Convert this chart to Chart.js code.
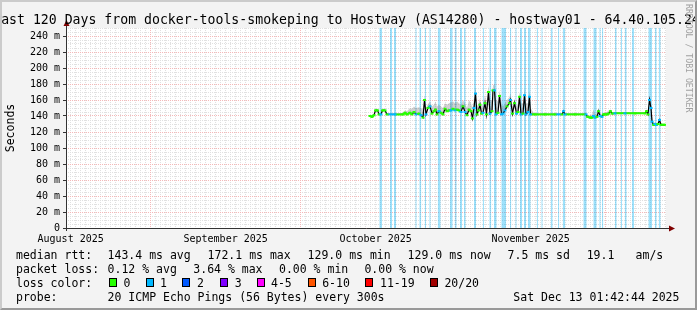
<!DOCTYPE html>
<html>
<head>
<meta charset="utf-8">
<script src="https://cdn.jsdelivr.net/npm/chart.js@4.4.1/dist/chart.umd.min.js"></script>
<style>
  html, body { margin: 0; padding: 0; background: #fff; }
  #frame { position: relative; width: 697px; height: 310px; overflow: hidden; background: #f3f3f3;
           font-family: 'DejaVu Sans Mono', monospace; color: #000; }
  #frame canvas { position: absolute; left: 0; top: 0; }
  .edge { position: absolute; left: 0; top: 0; right: 0; bottom: 0; border-style: solid; border-width: 2px;
          border-color: #cbcbcb #999 #999 #cbcbcb; pointer-events: none; }
  .title { position: absolute; left: -100px; width: 893px; top: 11.5px; text-align: center;
           font-size: 13.2px; line-height: 16px; white-space: pre; }
  .vlabel { position: absolute; left: -29.7px; top: 120.5px; width: 80px; height: 14px; line-height: 14px;
            font-size: 11.5px; text-align: center; transform: rotate(-90deg); }
  .credit { position: absolute; left: 684px; top: 4px; writing-mode: vertical-rl; font-size: 8.2px;
            line-height: 9px; color: #a0a0a0; white-space: pre; }
  .lg { position: absolute; font-size: 11.5px; line-height: 14px; white-space: pre; }
  .sw { position: absolute; top: 278px; width: 6px; height: 7px; border: 1px solid #000; }
</style>
</head>
<body>
<div id="frame">
  <canvas id="rtt" width="697" height="310"></canvas>
  <div class="title">Last 120 Days from docker-tools-smokeping to Hostway (AS14280) - hostway01 - 64.40.105.24</div>
  <div class="vlabel">Seconds</div>
  <div class="credit">RRDTOOL / TOBI OETIKER</div>

  <div class="lg" style="left:16px;top:247.5px">median rtt:</div>
  <div class="lg" style="left:107.6px;top:247.5px">143.4 ms avg</div>
  <div class="lg" style="left:207.6px;top:247.5px">172.1 ms max</div>
  <div class="lg" style="left:307.6px;top:247.5px">129.0 ms min</div>
  <div class="lg" style="left:407.6px;top:247.5px">129.0 ms now</div>
  <div class="lg" style="left:507.6px;top:247.5px">7.5 ms sd</div>
  <div class="lg" style="left:586.7px;top:247.5px">19.1</div>
  <div class="lg" style="left:635.6px;top:247.5px">am/s</div>

  <div class="lg" style="left:16px;top:261.5px">packet loss:</div>
  <div class="lg" style="left:107.6px;top:261.5px">0.12 % avg</div>
  <div class="lg" style="left:193.3px;top:261.5px">3.64 % max</div>
  <div class="lg" style="left:279px;top:261.5px">0.00 % min</div>
  <div class="lg" style="left:364.4px;top:261.5px">0.00 % now</div>

  <div class="lg" style="left:16px;top:275.5px">loss color:</div>
  <div class="sw" style="left:109px;background:#26ff00"></div><div class="lg" style="left:123.6px;top:275.5px">0</div>
  <div class="sw" style="left:146px;background:#00b8ff"></div><div class="lg" style="left:160px;top:275.5px">1</div>
  <div class="sw" style="left:182px;background:#0059ff"></div><div class="lg" style="left:197px;top:275.5px">2</div>
  <div class="sw" style="left:220px;background:#7e00ff"></div><div class="lg" style="left:234.7px;top:275.5px">3</div>
  <div class="sw" style="left:257px;background:#ff00ff"></div><div class="lg" style="left:271px;top:275.5px">4-5</div>
  <div class="sw" style="left:308px;background:#ff5500"></div><div class="lg" style="left:322.2px;top:275.5px">6-10</div>
  <div class="sw" style="left:365px;background:#ff0000"></div><div class="lg" style="left:380px;top:275.5px">11-19</div>
  <div class="sw" style="left:430px;background:#a10000"></div><div class="lg" style="left:444.4px;top:275.5px">20/20</div>

  <div class="lg" style="left:16px;top:289.5px">probe:</div>
  <div class="lg" style="left:107.6px;top:289.5px">20 ICMP Echo Pings (56 Bytes) every 300s</div>
  <div class="lg" style="left:513.3px;top:289.5px">Sat Dec 13 01:42:44 2025</div>
  <div class="edge"></div>
</div>

<script>
'use strict';

// ─── Time window: last 120 days up to Sat Dec 13 01:42:44 2025 ──────────────
const DAY = 86400000;
const WINDOW_DAYS = 120;
const WINDOW_END = Date.UTC(2025, 11, 13, 1, 42, 44);
const WINDOW_START = WINDOW_END - WINDOW_DAYS * DAY;
const Y_MAX = 250; // ms

const monthLabels = ['August 2025', 'September 2025', 'October 2025', 'November 2025'];
const monthLabelDates = ['2025-08-16', '2025-09-16', '2025-10-16', '2025-11-16'];
const monthLineDates = ['2025-09-01', '2025-10-01', '2025-11-01', '2025-12-01'];

// ─── Median RTT (days since window start, ms) ────────────────────────────────
const rttDay = [
  60.8, 61.2, 61.6, 61.9, 62.3, 62.6, 63.0, 63.3, 63.8, 64.2,
  65.8, 67.4, 67.8, 68.2, 68.8, 69.2, 69.6, 70.0, 70.6, 71.0,
  71.4, 71.7, 72.0, 72.4, 72.8, 73.2, 73.6, 73.9, 74.2, 74.6,
  75.0, 75.4, 75.8, 76.2, 76.6, 77.0, 77.4, 77.8, 78.2, 78.6,
  79.0, 79.4, 79.8, 80.2, 80.6, 81.0, 81.3, 81.6, 81.9, 82.2,
  82.5, 82.8, 83.1, 83.4, 83.8, 84.1, 84.5, 84.8, 85.2, 85.4,
  85.7, 86.0, 86.4, 86.7, 87.1, 87.4, 87.8, 88.2, 88.7, 88.9,
  89.3, 89.7, 90.1, 90.4, 90.7, 91.0, 91.4, 91.7, 92.0, 92.4,
  92.7, 92.9, 93.8, 95.8, 97.8, 99.2, 99.5, 99.8, 101.8, 104.0,
  104.3, 104.8, 105.2, 105.5, 105.8, 106.2, 106.5, 106.8, 107.2, 107.5,
  107.8, 108.2, 108.5, 108.9, 109.2, 109.8, 111.8, 113.8, 115.8, 116.1,
  116.4, 116.7, 117.0, 117.2, 117.5, 117.8, 118.1, 118.4, 118.7, 119.0,
  119.4, 119.8,
];
const rttMedian = [
  140, 139, 141, 147, 147, 142, 142, 147, 147, 142,
  142, 142, 144, 142, 144, 142, 145, 142, 143, 141,
  138, 160, 142, 150, 152, 143, 146, 148, 142, 146,
  144, 142, 149, 146, 147, 147, 149, 147, 148, 147,
  145, 152, 145, 141, 148, 146, 137, 150, 168, 142,
  147, 154, 143, 144, 156, 142, 170, 143, 146, 172,
  172, 142, 144, 165, 142, 143, 147, 152, 156, 160,
  143, 156, 143, 145, 164, 142, 143, 166, 142, 145,
  164, 142, 142, 142, 142, 142, 146, 142, 142, 142,
  139, 138, 138, 140, 138, 139, 146, 140, 139, 142,
  142, 142, 143, 146, 143, 143.3, 143.3, 143.3, 143.3, 146,
  142, 160, 150, 133, 129, 130, 129, 130, 135, 129,
  129, 129,
];
// top of the ping spread ("smoke")
const rttSmokeTop = [
  141, 141, 143, 149, 149, 143, 143, 149, 149, 143,
  142, 144, 147, 146, 150, 149, 152, 150, 151, 150,
  148, 166, 150, 155, 158, 152, 154, 158, 152, 154,
  152, 150, 156, 154, 156, 157, 158, 156, 158, 156,
  154, 160, 156, 150, 160, 156, 150, 162, 176, 152,
  156, 162, 152, 154, 166, 156, 178, 160, 160, 178,
  180, 160, 158, 172, 156, 152, 156, 160, 164, 168,
  152, 162, 152, 156, 170, 156, 156, 174, 156, 156,
  172, 150, 142, 142, 142, 143, 149, 143, 142, 143,
  141, 141, 142, 148, 142, 143, 150, 144, 142, 144,
  144, 145, 147, 148, 145, 144, 144, 144, 144, 148,
  146, 164, 158, 140, 132, 132, 131, 132, 138, 131,
  130, 130,
];

// ─── Periods with 1/20 packets lost (days since window start) ────────────────
const lossStart = [
  62.66, 64.8, 65.6, 69.86, 70.66, 71.74, 72.66, 74.34, 76.8, 77.74,
  78.8, 79.6, 81.6, 83.34, 84.66, 85.6, 87.06, 88.8, 89.86, 90.8,
  91.6, 92.4, 94.14, 95.06, 96.94, 98.4, 99.34, 103.46, 105.46, 106.66,
  107.2, 109.8, 110.94, 111.74, 113.2, 116.46, 117.8, 118.54,
];
const lossEnd = [
  63.2, 65.2, 66.0, 70.14, 71.06, 72.0, 72.94, 74.94, 77.34, 78.14,
  79.2, 79.94, 82.0, 83.6, 85.06, 86.14, 88.0, 89.06, 90.14, 91.2,
  92.0, 92.94, 94.4, 95.34, 97.34, 98.66, 99.86, 104.14, 106.14, 106.94,
  107.46, 110.14, 111.2, 112.14, 113.6, 117.2, 118.14, 118.94,
];

const LOSS_COLORS = { 0: '#26ff00', 1: '#00b8ff' };
const FONT = "'DejaVu Sans Mono', monospace";
const GRID_MINOR = '#e0e0e0';
const GRID_MAJOR = '#f5b8b8';

const dayOffset = s => (Date.parse(s + 'T00:00:00Z') - WINDOW_START) / DAY;
const inLoss = d => lossStart.some((s, i) => d >= s && d <= lossEnd[i]);
const lossColor = d => LOSS_COLORS[inLoss(d) ? 1 : 0];

const midnights = [];
for (let t = Math.ceil(WINDOW_START / DAY) * DAY; t <= WINDOW_END; t += DAY) {
  midnights.push((t - WINDOW_START) / DAY);
}

const medianPts = rttDay.map((d, i) => ({ x: d, y: rttMedian[i] }));
const smokePts = rttDay.map((d, i) => ({ x: d, y: rttSmokeTop[i] }));
const lossPts = [];
lossStart.forEach((s, i) => {
  lossPts.push({ x: s, y: Y_MAX }, { x: lossEnd[i], y: Y_MAX }, { x: lossEnd[i], y: null });
});

// ─── Plugins ─────────────────────────────────────────────────────────────────
const canvasFill = {
  id: 'canvasFill',
  beforeDraw(chart) {
    const { ctx, chartArea: a } = chart;
    ctx.save();
    ctx.fillStyle = '#ffffff';
    ctx.fillRect(a.left, a.top, a.right - a.left, a.bottom - a.top);
    ctx.restore();
  },
};

const axisArrows = {
  id: 'axisArrows',
  afterDatasetsDraw(chart) {
    const { ctx, chartArea: a } = chart;
    const x0 = a.left + 0.5, y0 = a.bottom + 0.5;
    ctx.save();
    ctx.strokeStyle = '#333';
    ctx.lineWidth = 1;
    ctx.beginPath();
    ctx.moveTo(x0, a.bottom + 3); ctx.lineTo(x0, a.top - 3);
    ctx.moveTo(a.left - 3, y0); ctx.lineTo(a.right + 4, y0);
    ctx.stroke();
    ctx.fillStyle = '#7f0000';
    ctx.beginPath();
    ctx.moveTo(x0, a.top - 8); ctx.lineTo(x0 - 3, a.top - 2); ctx.lineTo(x0 + 3, a.top - 2);
    ctx.closePath(); ctx.fill();
    ctx.beginPath();
    ctx.moveTo(a.right + 9, y0); ctx.lineTo(a.right + 3, y0 - 3); ctx.lineTo(a.right + 3, y0 + 3);
    ctx.closePath(); ctx.fill();
    ctx.restore();
  },
};

// ─── Chart ───────────────────────────────────────────────────────────────────
new Chart(document.getElementById('rtt').getContext('2d'), {
  type: 'line',
  data: {
    datasets: [
      {
        label: 'loss',
        data: lossPts,
        backgroundColor: 'rgba(0,176,245,0.38)',
        borderColor: 'transparent',
        borderWidth: 0,
        pointRadius: 0,
        fill: 'origin',
        spanGaps: false,
        order: 4,
      },
      {
        label: 'smoke',
        data: smokePts,
        backgroundColor: 'rgba(90,90,90,0.28)',
        borderColor: 'transparent',
        borderWidth: 0,
        pointRadius: 0,
        fill: '+1',
        order: 3,
      },
      {
        label: 'median',
        data: medianPts,
        borderColor: '#000',
        borderWidth: 1.2,
        pointRadius: 0,
        fill: false,
        order: 2,
      },
      {
        label: 'median loss color',
        data: medianPts,
        borderWidth: 2,
        fill: false,
        pointStyle: 'line',
        pointRadius: 1.5,
        pointBorderWidth: 2,
        pointBorderColor: c => lossColor(rttDay[c.dataIndex]),
        pointBackgroundColor: c => lossColor(rttDay[c.dataIndex]),
        segment: {
          borderColor: c => Math.abs(c.p0.parsed.y - c.p1.parsed.y) > 2.5
            ? 'transparent'
            : lossColor((c.p0.parsed.x + c.p1.parsed.x) / 2),
        },
        order: 1,
      },
    ],
  },
  options: {
    responsive: false,
    animation: false,
    devicePixelRatio: 1,
    layout: { padding: { left: 0, top: 28, right: 31, bottom: 62 } },
    plugins: { legend: { display: false }, tooltip: { enabled: false } },
    scales: {
      xDay: {
        type: 'linear', min: 0, max: WINDOW_DAYS, position: 'bottom',
        afterBuildTicks: s => { s.ticks = midnights.map(v => ({ value: v })); },
        ticks: { display: false },
        grid: { color: GRID_MINOR, drawTicks: false },
        border: { display: false, dash: [1, 1] },
        afterFit: s => { s.height = 0; },
      },
      yMinor: {
        min: 0, max: Y_MAX, position: 'left',
        ticks: { display: false, stepSize: 5 },
        grid: { color: GRID_MINOR, drawTicks: false },
        border: { display: false, dash: [1, 1] },
        afterFit: s => { s.width = 0; },
      },
      xMonth: {
        type: 'linear', min: 0, max: WINDOW_DAYS, position: 'bottom',
        afterBuildTicks: s => { s.ticks = monthLineDates.map(d => ({ value: dayOffset(d) })); },
        ticks: { display: false },
        grid: { color: GRID_MAJOR, drawTicks: false },
        border: { display: false, dash: [1, 1] },
        afterFit: s => { s.height = 0; },
      },
      x: {
        type: 'linear', min: 0, max: WINDOW_DAYS, position: 'bottom',
        afterBuildTicks: s => { s.ticks = monthLabelDates.map(d => ({ value: dayOffset(d) })); },
        ticks: {
          autoSkip: false, maxRotation: 0, padding: 5, color: '#000',
          font: { family: FONT, size: 10 },
          callback: (v, i) => monthLabels[i],
        },
        grid: { display: false, drawTicks: false },
        border: { display: false },
        afterFit: s => { s.height = 20; },
      },
      y: {
        min: 0, max: Y_MAX, position: 'left',
        ticks: {
          stepSize: 20, includeBounds: false, padding: 3, color: '#000',
          font: { family: FONT, size: 10 },
          callback: v => (v === 0 ? '0' : v + ' m'),
        },
        grid: { color: GRID_MAJOR, tickColor: '#333', tickLength: 3 },
        border: { display: false, dash: [1, 1] },
        afterFit: s => { s.width = 66; },
      },
    },
  },
  plugins: [canvasFill, axisArrows],
});
</script>
</body>
</html>
